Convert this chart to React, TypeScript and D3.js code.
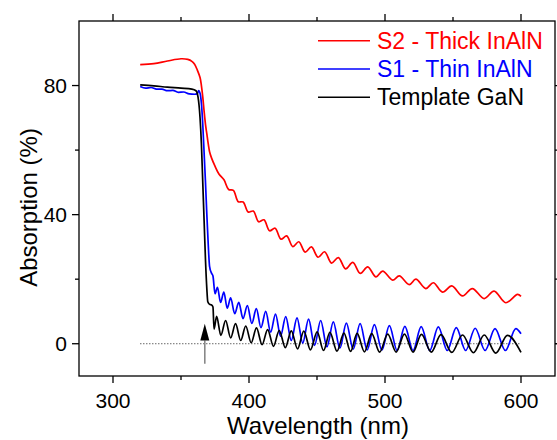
import React from "react";
import * as d3 from "d3";

// Wavelength (nm), absorption (%)
const s2Data: [number, number][] = [
  [320, 86.5], [330, 86.8], [340, 87.6], [350, 88.3], [355, 88.1], [358, 87.5], [360, 86.6],
  [362, 84.8], [364, 82.5], [365, 80], [366, 76.5], [367, 72], [368, 68], [369, 65], [370, 62],
  [371, 59.5], [372.5, 57.5], [375, 55], [378, 52.5],
  [381.6, 50.8], [385, 47.8], [388.5, 47.5], [392.1, 44.0], [395.7, 43.9], [399.4, 40.8],
  [403.2, 41.1], [407.1, 37.8], [411, 38.4], [415.1, 35.0], [419.2, 35.8], [423.5, 32.4],
  [427.7, 33.4], [432.2, 30.1], [436.6, 31.6], [441.3, 28.4], [445.9, 30.0], [450.8, 26.8],
  [455.6, 28.5], [460.7, 25.0], [465.7, 26.7], [471, 23.2], [476.3, 25.2], [481.8, 21.8],
  [487.3, 23.8], [493.4, 20.7], [498.3, 22.5], [505.6, 19.7], [510.5, 21], [517.8, 18.3],
  [522.7, 20], [530, 17.1], [535.5, 18.9], [542.3, 16], [549.1, 17.9], [557, 14.8],
  [564.2, 17.1], [572.9, 14], [580.2, 16.3], [588.8, 12.7], [597.4, 15.3], [600, 14.7],
];

const s1Data: [number, number][] = [
  [320, 79.7], [324, 79.2], [328, 79.4], [332, 78.9], [336, 78.9], [340, 78.4], [344, 78.5],
  [348, 77.9], [352, 78.0], [356, 77.4], [360, 77.3], [362, 77.5], [363, 78.4], [364, 77.6],
  [365, 74.5], [366, 68], [367, 59], [368, 50], [369, 40], [370, 31], [371, 24], [372.5, 21.8],
  [373.5, 21], [375, 15.5], [376.8, 17.5], [379.1, 12.8], [381.5, 16], [384, 11], [386.5, 14.2],
  [389.5, 9.3], [392.5, 12.8], [395.6, 7.8], [398.8, 11.8], [402.1, 6.3], [405.4, 10.9],
  [408.8, 5.0], [412.3, 10], [415.9, 3.6], [419.5, 9.2], [423.2, 2.3], [427, 8.4], [431.1, 1.0],
  [435.3, 8.0], [439.5, 0.2], [443.8, 7.6], [448.2, -0.5], [452.7, 7.2], [457.3, -1.0],
  [462, 6.8], [466.8, -1.4], [471.6, 6.4], [476.6, -1.7], [481.7, 6.2], [486.9, -1.9],
  [492.2, 5.9], [497.7, -2.0], [503.2, 5.6], [508.9, -2.1], [514.6, 5.4], [520.6, -2.1],
  [526.6, 5.3], [532.9, -2.1], [539.2, 5.2], [545.8, -2.1], [552.4, 5.0], [559.3, -2.1],
  [566.3, 4.8], [573.6, -2.1], [580.9, 4.7], [588.5, -2.1], [596.2, 4.7], [600, 3.1],
];

const ganData: [number, number][] = [
  [320, 80.2], [330, 79.9], [340, 79.5], [350, 79.2], [358, 78.9], [361, 78.4], [362.5, 76.5],
  [364, 70], [365, 62], [366, 50], [367, 38], [368, 26], [369, 17], [369.7, 13], [371, 12.2],
  [372.5, 12], [373.5, 11.4], [374.3, 4.5], [376.2, 8.5], [379.3, 2.6], [382.8, 7.2],
  [386.5, 1.8], [390.1, 6.2], [393.9, 1.0], [397.6, 5.5], [401.6, 0.3], [405.5, 4.9],
  [409.6, -0.3], [413.7, 4.4], [418, -0.8], [422.2, 4.1], [426.7, -1.2], [431.1, 4.0],
  [435.7, -1.6], [440.3, 3.9], [445.2, -1.9], [450.1, 3.7], [454.8, -2.1], [459.5, 3.5],
  [464.7, -2.3], [469.8, 3.3], [474.7, -2.4], [479.5, 3.2], [484.9, -2.5], [490.2, 3.1],
  [496.1, -2.6], [502, 3.0], [508.2, -2.6], [514.3, 3.0], [520.6, -2.6], [526.8, 2.9],
  [534, -2.6], [541.2, 2.8], [549.1, -2.7], [557, 2.7], [565, -2.8], [573, 2.7],
  [581.5, -2.9], [590, 2.6], [600, -2.7],
];

const seriesNames = ["S2 - Thick InAlN", "S1 - Thin InAlN", "Template GaN"];
const seriesColors = ["#ff0000", "#0000ff", "#000000"];

const xMajorTicks = [300, 400, 500, 600];
const xMinorTicks = [350, 450, 550];
const yMajorTicks = [0, 40, 80];
const yMinorTicks = [20, 60];

const zeroLine: [number, number] = [320, 600];
const arrowX = 367.5;
const arrowTail = -6.2;
const arrowBase = 1.0;
const arrowTip = 6.2;

const W = 557;
const H = 440;
const FONT = "'Liberation Sans', Arial, Helvetica, sans-serif";

export default function App() {
  const left = 79, right = 555, top = 21, bottom = 376;
  const x = d3.scaleLinear().domain([275, 625]).range([left, right]);
  const y = d3.scaleLinear().domain([-10, 100]).range([bottom, top]);
  const mono = d3
    .line<[number, number]>()
    .x((d) => x(d[0]))
    .y((d) => y(d[1]))
    .curve(d3.curveMonotoneX);
  const smooth = d3
    .line<[number, number]>()
    .x((d) => x(d[0]))
    .y((d) => y(d[1]))
    .curve(d3.curveCatmullRom.alpha(0.5));

  const paths = [smooth(s2Data), mono(s1Data), mono(ganData)];
  const majorLen = 7;
  const minorLen = 4;
  const sw = 1.3;

  return (
    <svg
      width={W}
      height={H}
      style={{ position: "absolute", left: 0, top: 0, background: "#fff" }}
      fontFamily={FONT}
    >
      <rect x={0} y={0} width={W} height={H} fill="#fff" />
      {/* zero reference */}
      <line
        x1={x(zeroLine[0])}
        x2={x(zeroLine[1])}
        y1={y(0)}
        y2={y(0)}
        stroke="#444"
        strokeWidth={1}
        strokeDasharray="1.2,1.8"
      />
      {/* curves */}
      {paths.map((p, i) => (
        <path key={i} d={p || ""} fill="none" stroke={seriesColors[i]} strokeWidth={1.7} strokeLinejoin="round" />
      ))}
      {/* arrow */}
      <line x1={x(arrowX)} x2={x(arrowX)} y1={y(arrowTail)} y2={y(arrowBase)} stroke="#888" strokeWidth={1.6} />
      <path
        d={`M${x(arrowX)},${y(arrowTip)} L${x(arrowX) - 4.5},${y(arrowBase)} L${x(arrowX) + 4.5},${y(arrowBase)} Z`}
        fill="#000"
      />
      {/* frame */}
      <rect x={left} y={top} width={right - left} height={bottom - top} fill="none" stroke="#000" strokeWidth={sw} />
      {/* x ticks bottom & top */}
      {xMajorTicks.map((t) => (
        <g key={"xM" + t}>
          <line x1={x(t)} x2={x(t)} y1={bottom} y2={bottom + majorLen} stroke="#000" strokeWidth={sw} />
          <line x1={x(t)} x2={x(t)} y1={top} y2={top - majorLen} stroke="#000" strokeWidth={sw} />
          <text x={x(t)} y={408} textAnchor="middle" fontSize={21} fill="#000">
            {t}
          </text>
        </g>
      ))}
      {xMinorTicks.map((t) => (
        <g key={"xm" + t}>
          <line x1={x(t)} x2={x(t)} y1={bottom} y2={bottom + minorLen} stroke="#000" strokeWidth={sw} />
          <line x1={x(t)} x2={x(t)} y1={top} y2={top - minorLen} stroke="#000" strokeWidth={sw} />
        </g>
      ))}
      {/* y ticks left & right */}
      {yMajorTicks.map((t) => (
        <g key={"yM" + t}>
          <line x1={left} x2={left - majorLen} y1={y(t)} y2={y(t)} stroke="#000" strokeWidth={sw} />
          <line x1={right} x2={right + majorLen} y1={y(t)} y2={y(t)} stroke="#000" strokeWidth={sw} />
          <text x={67} y={y(t) + 7.5} textAnchor="end" fontSize={21} fill="#000">
            {t}
          </text>
        </g>
      ))}
      {yMinorTicks.map((t) => (
        <g key={"ym" + t}>
          <line x1={left} x2={left - minorLen} y1={y(t)} y2={y(t)} stroke="#000" strokeWidth={sw} />
          <line x1={right} x2={right + minorLen} y1={y(t)} y2={y(t)} stroke="#000" strokeWidth={sw} />
        </g>
      ))}
      {/* axis titles */}
      <text x={318} y={434} textAnchor="middle" fontSize={24} fill="#000">
        Wavelength (nm)
      </text>
      <text
        transform={`translate(36.5,${(top + bottom) / 2 + 9}) rotate(-90)`}
        textAnchor="middle"
        fontSize={24}
        fill="#000"
      >
        Absorption (%)
      </text>
      {/* legend */}
      {seriesNames.map((name, i) => (
        <g key={name}>
          <line x1={318} x2={370} y1={40.7 + i * 28.3} y2={40.7 + i * 28.3} stroke={seriesColors[i]} strokeWidth={1.6} />
          <text x={377} y={48.5 + i * 28.3} fontSize={23} fill={seriesColors[i]}>
            {name}
          </text>
        </g>
      ))}
    </svg>
  );
}
